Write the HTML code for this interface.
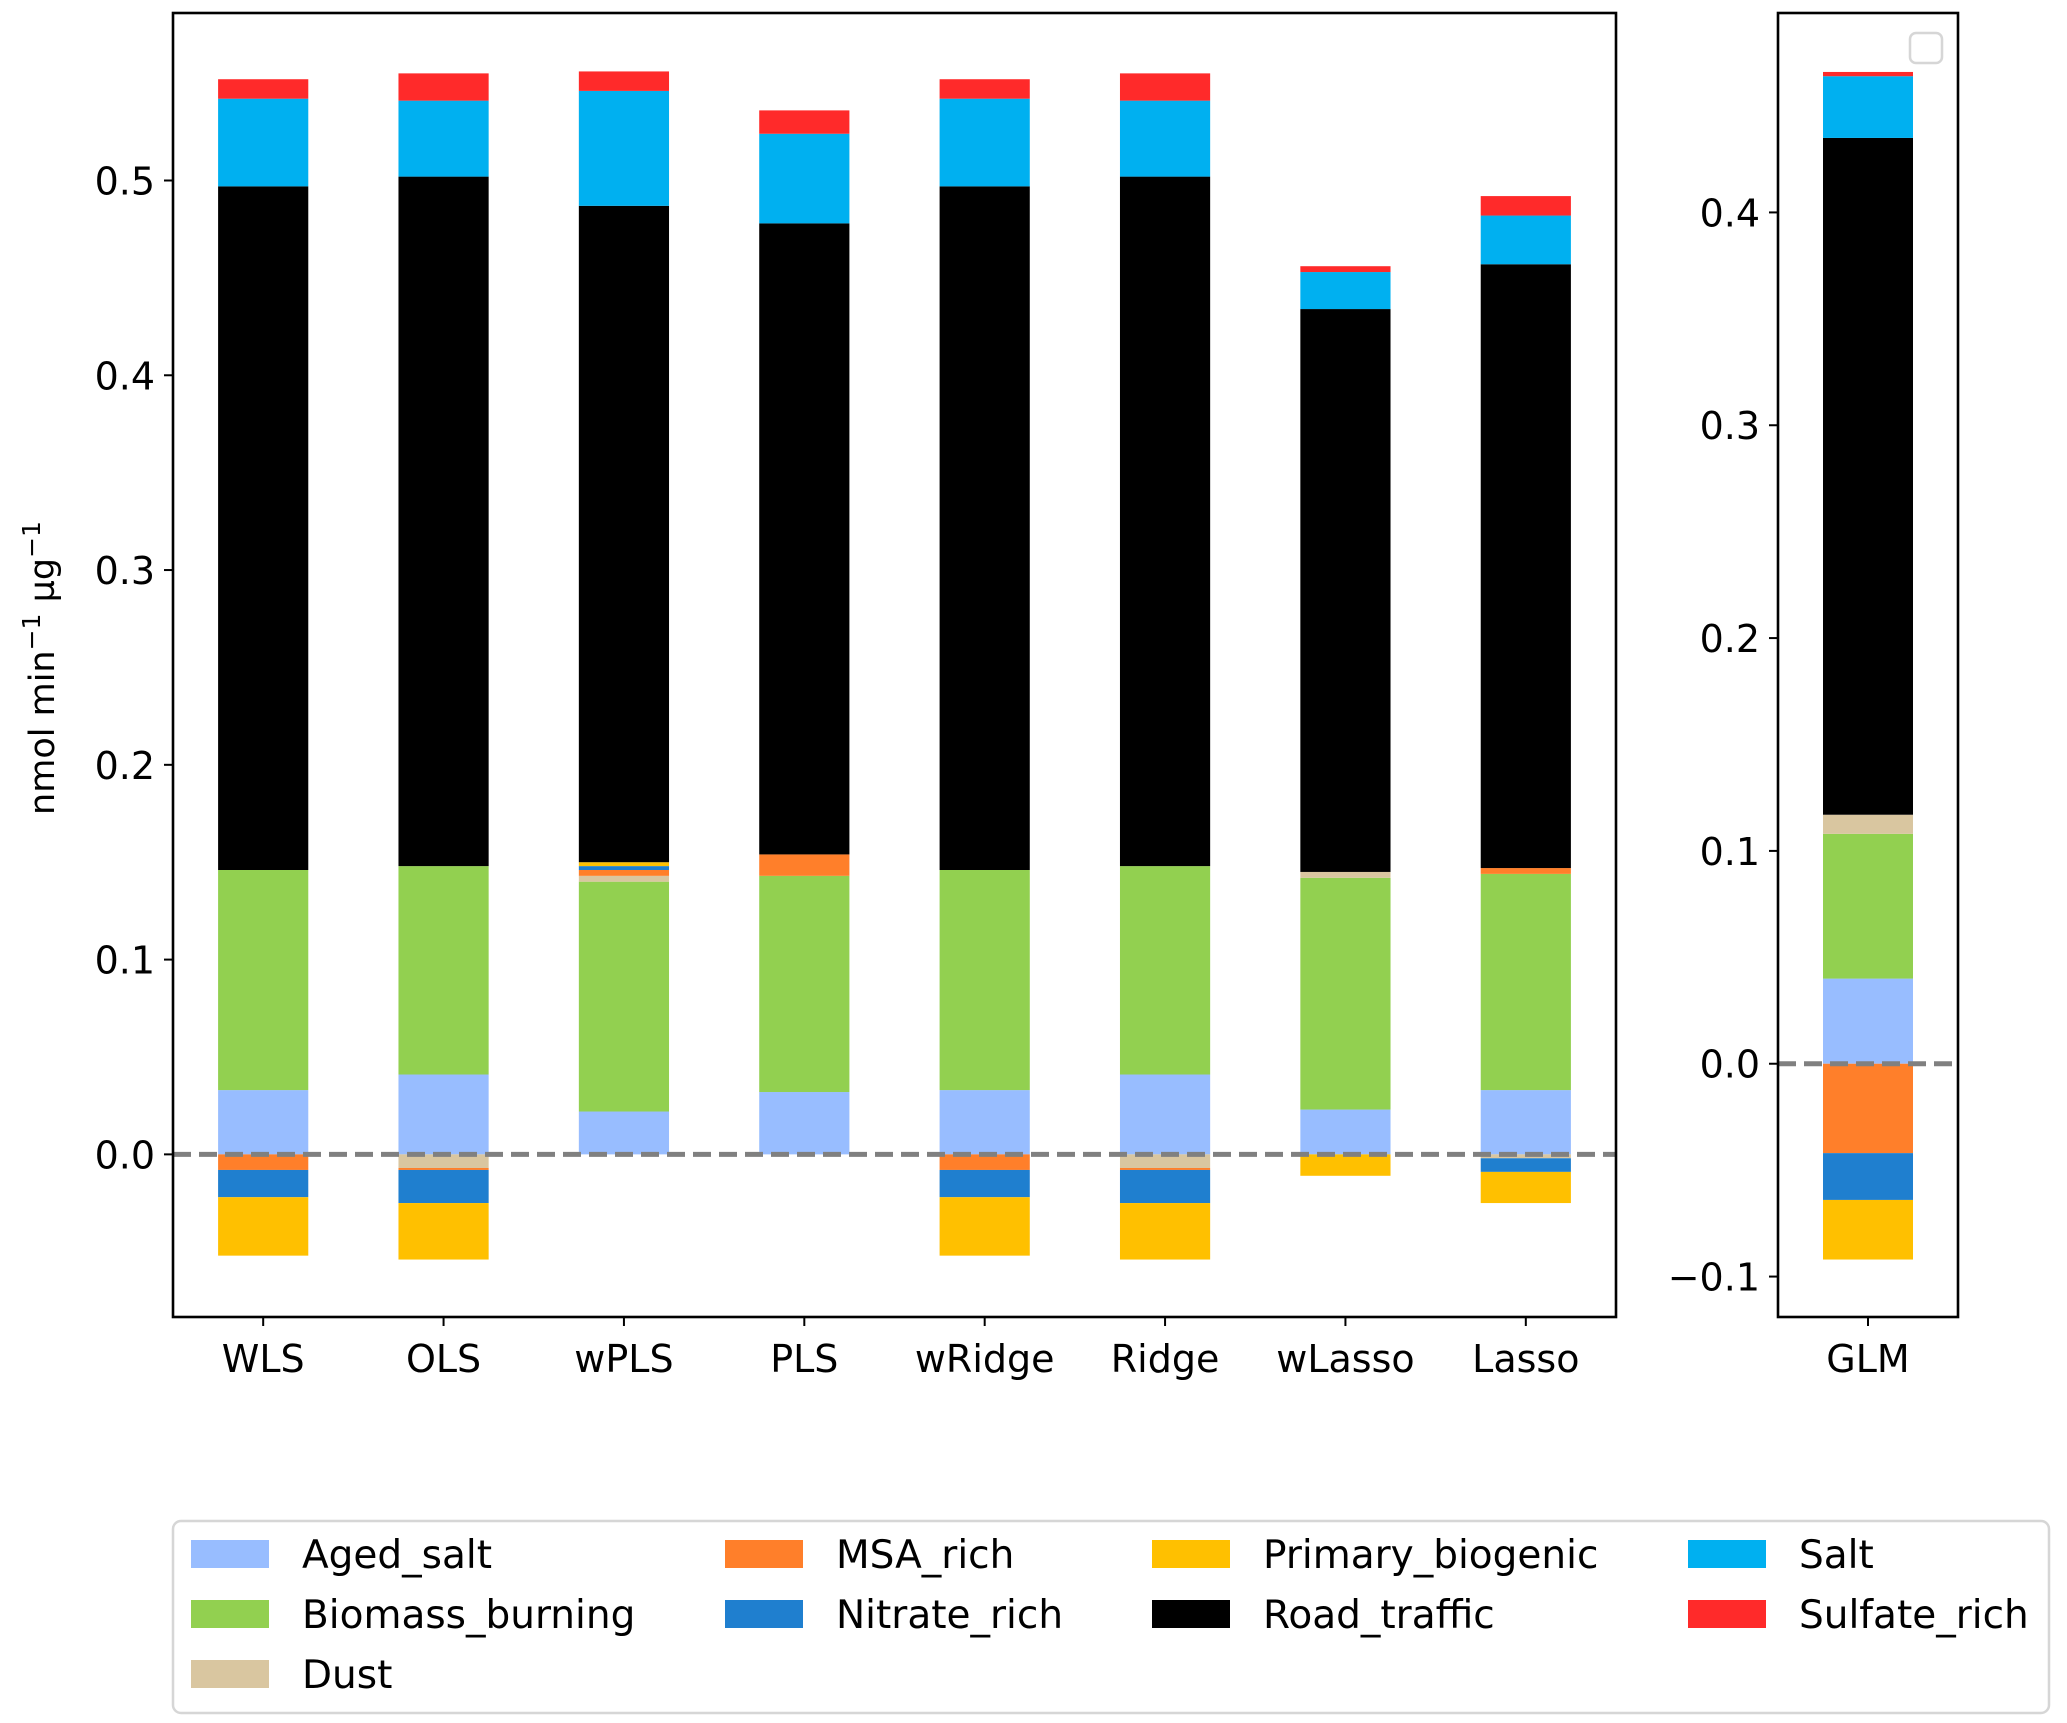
<!DOCTYPE html>
<html><head><meta charset="utf-8"><style>
html,body{margin:0;padding:0;background:#fff;}
svg{display:block;font-family:"DejaVu Sans","Liberation Sans",sans-serif;}
</style></head><body>
<svg id="chart" width="2067" height="1723" viewBox="0 0 2067 1723"></svg>
<script>
const categories = ["WLS","OLS","wPLS","PLS","wRidge","Ridge","wLasso","Lasso"];
const glmCategories = ["GLM"];
const seriesNames = ["Aged_salt","Biomass_burning","Dust","MSA_rich","Nitrate_rich","Primary_biogenic","Road_traffic","Salt","Sulfate_rich"];
const seriesColors = ["#98bdff","#92d050","#d9c6a0","#ff7f2a","#1f7fcf","#ffc000","#000000","#00b0f0","#ff2a2a"];
const agedSalt       = [0.033,0.041,0.022,0.032,0.033,0.041,0.023,0.033];
const biomassBurning = [0.113,0.107,0.118,0.111,0.113,0.107,0.119,0.111];
const dust           = [0.000,-0.007,0.003,0.000,0.000,-0.007,0.003,-0.002];
const msaRich        = [-0.008,-0.001,0.003,0.011,-0.008,-0.001,0.000,0.003];
const nitrateRich    = [-0.014,-0.017,0.002,0.000,-0.014,-0.017,0.000,-0.007];
const primaryBiogenic= [-0.030,-0.029,0.002,0.000,-0.030,-0.029,-0.011,-0.016];
const roadTraffic    = [0.351,0.354,0.337,0.324,0.351,0.354,0.289,0.310];
const salt           = [0.045,0.039,0.059,0.046,0.045,0.039,0.019,0.025];
const sulfateRich    = [0.010,0.014,0.010,0.012,0.010,0.014,0.003,0.010];
const glmValues = [0.040,0.068,0.009,-0.042,-0.022,-0.028,0.318,0.029,0.002];
const mainTicks = [0.0,0.1,0.2,0.3,0.4,0.5];
const glmTicks = [-0.1,0.0,0.1,0.2,0.3,0.4];

const NS="http://www.w3.org/2000/svg";
const svg=document.getElementById('chart');
function mk(tag,attrs,parent){const e=document.createElementNS(NS,tag);for(const k in attrs)e.setAttribute(k,attrs[k]);(parent||svg).appendChild(e);return e;}

const mainSeries=[agedSalt,biomassBurning,dust,msaRich,nitrateRich,primaryBiogenic,roadTraffic,salt,sulfateRich];

function drawAxes(ax){
  const yS=v=>ax.y0-(v-ax.ymin)/(ax.ymax-ax.ymin)*(ax.y0-ax.y1);
  const xS=i=>ax.x0+(i+0.5)/ax.n*(ax.x1-ax.x0);
  const bw=0.5/ax.n*(ax.x1-ax.x0);
  const g=mk('g',{});
  
  
  for(let c=0;c<ax.n;c++){
    let pos=0,neg=0;
    for(let s=0;s<seriesNames.length;s++){
      const v=ax.get(s,c);
      if(v===0)continue;
      let a,b;
      if(v>0){a=pos;b=pos+v;pos=b;}else{a=neg;b=neg+v;neg=b;}
      const r=mk('rect',{x:xS(c)-bw/2,y:yS(Math.max(a,b)),width:bw,height:Math.abs(yS(a)-yS(b)),fill:seriesColors[s]},g);
      
      
    }
  }
  const zl=mk('line',{x1:ax.x0,x2:ax.x1,y1:yS(0),y2:yS(0),stroke:'#808080','stroke-width':5,'stroke-dasharray':'18,8'},g);
  
  
  const fr=mk('rect',{x:ax.x0,y:ax.y1,width:ax.x1-ax.x0,height:ax.y0-ax.y1,fill:'none',stroke:'#000','stroke-width':2.6},g);
  
  
  ax.ticks.forEach(t=>{
    const y=yS(t);
    mk('line',{x1:ax.x0-9,x2:ax.x0,y1:y,y2:y,stroke:'#000','stroke-width':2},g);
    const tx=mk('text',{x:ax.x0-18,y:y+14,'text-anchor':'end','font-size':38},g);
    tx.textContent=(t<0?'\u2212':'')+Math.abs(t).toFixed(1);
    
    
  });
  ax.cats.forEach((c,i)=>{
    const x=xS(i);
    mk('line',{x1:x,x2:x,y1:ax.y0,y2:ax.y0+9,stroke:'#000','stroke-width':2},g);
    const tx=mk('text',{x:x,y:ax.y0+55,'text-anchor':'middle','font-size':38},g);
    tx.textContent=c;
    
    
  });
}
drawAxes({name:'main-axes',x0:173,x1:1616,y0:1317,y1:13,ymin:-0.0835,ymax:0.586,n:categories.length,cats:categories,ticks:mainTicks,get:(s,c)=>mainSeries[s][c]});
drawAxes({name:'glm-axes',x0:1778,x1:1958,y0:1317,y1:13,ymin:-0.119,ymax:0.4937,n:1,cats:glmCategories,ticks:glmTicks,get:(s,c)=>glmValues[s]});

const emptyLeg=mk('rect',{x:1910,y:33,width:32,height:30,rx:6,fill:'#fff',stroke:'#d6d6d6','stroke-width':2.5});



const yl=mk('text',{x:0,y:0,'text-anchor':'middle','font-size':35,transform:'translate(54,668) rotate(-90)'});
yl.innerHTML='nmol min<tspan dy="-14" font-size="25">\u22121</tspan><tspan dy="14"> \u00b5g</tspan><tspan dy="-14" font-size="25">\u22121</tspan>';



const lg=mk('g',{});


mk('rect',{x:173,y:1521,width:1876,height:192,rx:8,fill:'#fff',stroke:'#d6d6d6','stroke-width':2.5},lg);
const colX=[191,725,1152,1688];
const rowY=[1554,1614,1674];
const order=[0,0,0,1,1,2,2,3,3];
const rowIdx=[0,1,2,0,1,0,1,0,1];
seriesNames.forEach((n,s)=>{
  const cx=colX[order[s]],cy=rowY[rowIdx[s]];
  const e=mk('g',{},lg);
  
  
  mk('rect',{x:cx,y:cy-14,width:78,height:28,fill:seriesColors[s]},e);
  const t=mk('text',{x:cx+111,y:cy+14,'font-size':39},e);
  t.textContent=n;
});
</script>
</body></html>
